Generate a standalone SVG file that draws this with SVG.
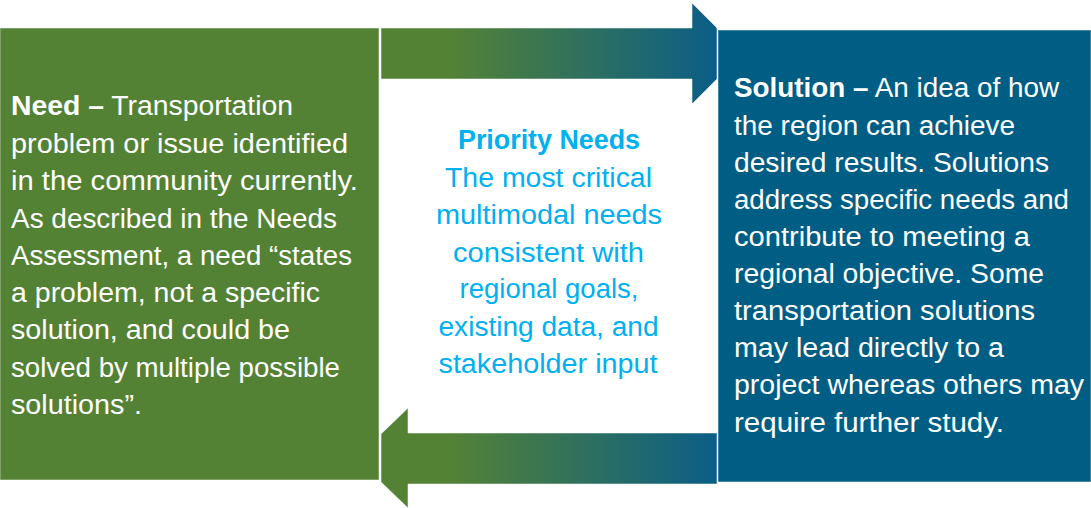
<svg xmlns="http://www.w3.org/2000/svg" width="1091" height="508" viewBox="0 0 1091 508">
<defs>
<linearGradient id="gTop" gradientUnits="userSpaceOnUse" x1="381" y1="0" x2="717" y2="0">
<stop offset="0" stop-color="#548235"/>
<stop offset="0.2" stop-color="#548235"/>
<stop offset="1" stop-color="#0A5E87"/>
</linearGradient>
<linearGradient id="gBot" gradientUnits="userSpaceOnUse" x1="381" y1="0" x2="717" y2="0">
<stop offset="0" stop-color="#548235"/>
<stop offset="0.2" stop-color="#548235"/>
<stop offset="1" stop-color="#0A5E87"/>
</linearGradient>
<style>
.t{font-family:"Liberation Sans",Arial,sans-serif;font-size:27px;fill:#ffffff}
.c{font-family:"Liberation Sans",Arial,sans-serif;font-size:27px;fill:#00B0F0;text-anchor:middle}
.b{font-weight:bold}
.box{stroke:#ffffff;stroke-opacity:0.5;stroke-width:1}
</style>
</defs>
<g id="connectors">
<polygon points="381,28 692,28 692,3 717,28 717,79 692,104 692,79 381,79" fill="url(#gTop)" class="box"/>
<polygon points="717,433 408,433 408,408 381,434 381,482 408,508 408,484 717,484" fill="url(#gBot)" class="box"/>
</g>
<g id="need">
<rect x="0" y="28" width="379" height="452" fill="#548235" class="box"/>
<text class="t" x="11" y="115" textLength="282" lengthAdjust="spacingAndGlyphs"><tspan class="b">Need –</tspan> Transportation</text>
<text class="t" x="11" y="152.5" textLength="337" lengthAdjust="spacingAndGlyphs">problem or issue identified</text>
<text class="t" x="11" y="190" textLength="347" lengthAdjust="spacingAndGlyphs">in the community currently.</text>
<text class="t" x="11" y="227.5" textLength="326" lengthAdjust="spacingAndGlyphs">As described in the Needs</text>
<text class="t" x="11" y="265" textLength="341" lengthAdjust="spacingAndGlyphs">Assessment, a need “states</text>
<text class="t" x="11" y="302" textLength="309" lengthAdjust="spacingAndGlyphs">a problem, not a specific</text>
<text class="t" x="11" y="339" textLength="279" lengthAdjust="spacingAndGlyphs">solution, and could be</text>
<text class="t" x="11" y="376.5" textLength="329" lengthAdjust="spacingAndGlyphs">solved by multiple possible</text>
<text class="t" x="11" y="414" textLength="131" lengthAdjust="spacingAndGlyphs">solutions”.</text>
</g>
<g id="priority">
<text class="c b" x="549" y="149.3" textLength="182" lengthAdjust="spacingAndGlyphs">Priority Needs</text>
<text class="c" x="548.5" y="186.7" textLength="207" lengthAdjust="spacingAndGlyphs">The most critical</text>
<text class="c" x="549" y="224" textLength="226" lengthAdjust="spacingAndGlyphs">multimodal needs</text>
<text class="c" x="548.5" y="261.7" textLength="191" lengthAdjust="spacingAndGlyphs">consistent with</text>
<text class="c" x="549" y="298.3" textLength="179" lengthAdjust="spacingAndGlyphs">regional goals,</text>
<text class="c" x="548.5" y="336" textLength="220" lengthAdjust="spacingAndGlyphs">existing data, and</text>
<text class="c" x="548" y="373.3" textLength="219" lengthAdjust="spacingAndGlyphs">stakeholder input</text>
</g>
<g id="solution">
<rect x="718" y="30" width="373" height="452" fill="#005E84" class="box"/>
<text class="t" x="734" y="97.3" textLength="325" lengthAdjust="spacingAndGlyphs"><tspan class="b">Solution –</tspan> An idea of how</text>
<text class="t" x="734" y="135" textLength="281" lengthAdjust="spacingAndGlyphs">the region can achieve</text>
<text class="t" x="734" y="171.7" textLength="315" lengthAdjust="spacingAndGlyphs">desired results. Solutions</text>
<text class="t" x="734" y="209" textLength="335" lengthAdjust="spacingAndGlyphs">address specific needs and</text>
<text class="t" x="734" y="246" textLength="296" lengthAdjust="spacingAndGlyphs">contribute to meeting a</text>
<text class="t" x="734" y="282.7" textLength="310" lengthAdjust="spacingAndGlyphs">regional objective. Some</text>
<text class="t" x="734" y="320" textLength="301" lengthAdjust="spacingAndGlyphs">transportation solutions</text>
<text class="t" x="734" y="357" textLength="270" lengthAdjust="spacingAndGlyphs">may lead directly to a</text>
<text class="t" x="734" y="394.3" textLength="350" lengthAdjust="spacingAndGlyphs">project whereas others may</text>
<text class="t" x="734" y="431.7" textLength="270" lengthAdjust="spacingAndGlyphs">require further study.</text>
</g>
</svg>
